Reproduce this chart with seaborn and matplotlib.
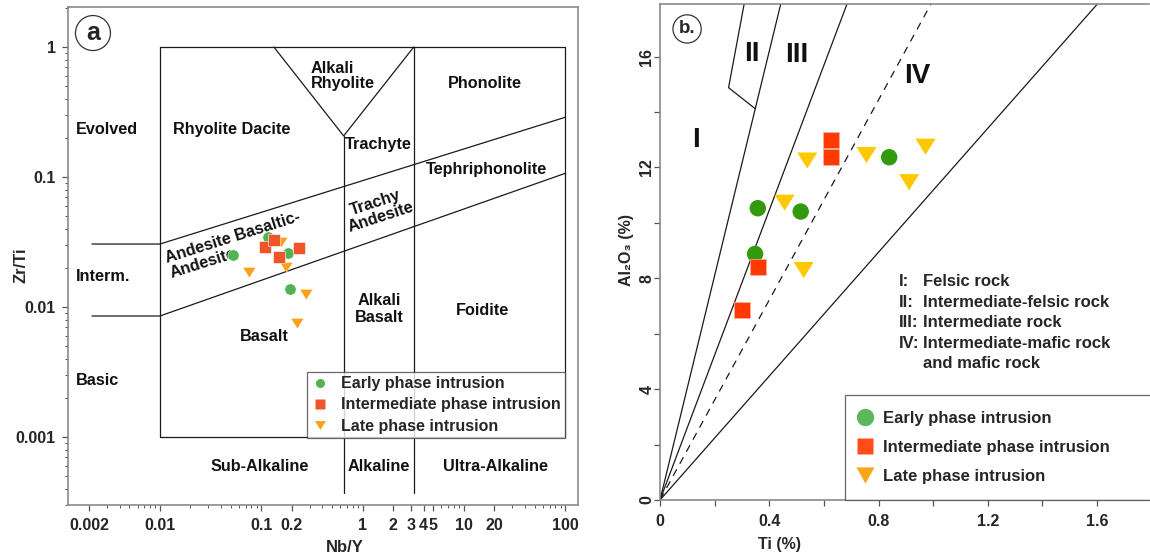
import numpy as np
import pandas as pd
import matplotlib
matplotlib.use("Agg")
import matplotlib.pyplot as plt
import seaborn as sns
from matplotlib.lines import Line2D
from matplotlib.ticker import FixedLocator, LogLocator, MultipleLocator, NullFormatter, FixedFormatter

# ---------------- data: panel a (Nb/Y vs Zr/Ti) ----------------
early_a_nby = [0.052, 0.117, 0.182, 0.192]
early_a_zrti = [0.025, 0.0344, 0.0259, 0.01375]
inter_a_nby = [0.109, 0.133, 0.151, 0.237]
inter_a_zrti = [0.0288, 0.0326, 0.0244, 0.0286]
late_a_nby = [0.076, 0.157, 0.175, 0.274, 0.226]
late_a_zrti = [0.0185, 0.0318, 0.0204, 0.0125, 0.00757]

# ---------------- data: panel b (Ti vs Al2O3) ----------------
early_b_ti = [0.358, 0.515, 0.348, 0.839]
early_b_al = [10.53, 10.41, 8.88, 12.37]
inter_b_ti = [0.627, 0.627, 0.358, 0.299]
inter_b_al = [13.0, 12.39, 8.40, 6.86]
late_b_ti = [0.539, 0.456, 0.526, 0.756, 0.912, 0.972]
late_b_al = [12.25, 10.73, 8.30, 12.45, 11.47, 12.75]

series_names = ["Early phase intrusion", "Intermediate phase intrusion", "Late phase intrusion"]

xticks_a = [0.002, 0.01, 0.1, 0.2, 1, 2, 3, 4, 5, 10, 20, 100]
xticklabels_a = ["0.002", "0.01", "0.1", "0.2", "1", "2", "3", "4", "5", "10", "20", "100"]
yticks_a = [0.001, 0.01, 0.1, 1]
yticklabels_a = ["0.001", "0.01", "0.1", "1"]
xticks_b = [0, 0.4, 0.8, 1.2, 1.6]
xticklabels_b = ["0", "0.4", "0.8", "1.2", "1.6"]
yticks_b = [0, 4, 8, 12, 16]
yticklabels_b = ["0", "4", "8", "12", "16"]

rock_keys = ["I:", "II:", "III:", "IV:", ""]
rock_names = ["Felsic rock", "Intermediate-felsic rock", "Intermediate rock",
              "Intermediate-mafic rock", "and mafic rock"]

# Al2O3/Ti ratios of the classification boundaries (panel b)
boundary_ratios = [40.5, 26.15, 18.05, 11.18]
boundary_styles = ["-", "-", (0, (6, 5)), "-"]

# ---------------- style ----------------
sns.set_style("ticks")
plt.rcParams["font.family"] = ["Liberation Sans", "DejaVu Sans"]
plt.rcParams["font.weight"] = "bold"
plt.rcParams["axes.labelweight"] = "bold"

green_a, red_a, orange_a = "#52b352", "#f0542a", "#f7a21b"
green_b, red_b, yellow_b = "#339a10", "#ff3a00", "#ffc800"
leg_green, leg_red, leg_orange = "#5cb85c", "#ff4d1a", "#f9a61c"
tri = [(-1, 0.8), (1, 0.8), (0, -0.8)]

W, H = 1150, 558
fig = plt.figure(figsize=(W / 100, H / 100), dpi=100)


def px_axes(l, t, r, b):
    return fig.add_axes([l / W, 1 - b / H, (r - l) / W, (b - t) / H])


ax_a = px_axes(68, 7, 578, 505)
ax_b = px_axes(660, 4, 1149, 500)

spine_col = "#8a8a8a"
line_kw = dict(color="#1a1a1a", lw=0.9, zorder=1)

# ================= panel a =================
ax_a.set_xscale("log")
ax_a.set_yscale("log")

sns.scatterplot(x=early_a_nby, y=early_a_zrti, ax=ax_a, marker="o", s=66,
                color=green_a, edgecolor="white", linewidth=0.4, zorder=3)
sns.scatterplot(x=late_a_nby, y=late_a_zrti, ax=ax_a, marker=tri, s=85,
                color=orange_a, edgecolor="white", linewidth=0.3, zorder=4)
sns.scatterplot(x=inter_a_nby, y=inter_a_zrti, ax=ax_a, marker="s", s=66,
                color=red_a, edgecolor="white", linewidth=0.4, zorder=5)

ax_a.set_xlim(0.001236, 133.7)
ax_a.set_ylim(0.0003, 2.03)

# classification boundaries
ax_a.plot([0.01, 100, 100, 0.01, 0.01], [1, 1, 0.001, 0.001, 1], **line_kw)
ax_a.plot([0.133, 0.65, 3.2], [1, 0.207, 1], **line_kw)
ax_a.plot([0.65, 0.65], [0.207, 0.00037], **line_kw)
ax_a.plot([3.2, 3.2], [1, 0.00037], **line_kw)
ax_a.plot([0.00213, 0.01, 100], [0.0305, 0.0305, 0.288], **line_kw)
ax_a.plot([0.00213, 0.01, 100], [0.00853, 0.00853, 0.1067], **line_kw)

tk = dict(fontsize=11.7, fontweight="bold", color="#111111", zorder=2)
ax_a.text(0.0030, 0.230, "Evolved", ha="center", va="center", **tk)
ax_a.text(0.0514, 0.230, "Rhyolite Dacite", ha="center", va="center", **tk)
ax_a.text(0.309, 0.598, "Alkali\nRhyolite", ha="left", va="center", linespacing=1.05, **tk)
ax_a.text(16.1, 0.528, "Phonolite", ha="center", va="center", **tk)
ax_a.text(1.419, 0.179, "Trachyte", ha="center", va="center", **tk)
ax_a.text(16.6, 0.115, "Tephriphonolite", ha="center", va="center", **tk)
ax_a.text(1.419, 0.0557, "Trachy\nAndesite", ha="center", va="center", rotation=18,
          rotation_mode="anchor", multialignment="center", linespacing=1.05, **tk)
ax_a.text(0.0132, 0.0160, "Andesite Basaltic-\nAndesite", ha="left", va="bottom", rotation=17.5,
          rotation_mode="anchor", multialignment="left", linespacing=1.05, **tk)
ax_a.text(0.00274, 0.0173, "Interm.", ha="center", va="center", **tk)
ax_a.text(1.45, 0.00966, "Alkali\nBasalt", ha="center", va="center", multialignment="center",
          linespacing=1.15, **tk)
ax_a.text(15.4, 0.00948, "Foidite", ha="center", va="center", **tk)
ax_a.text(0.107, 0.00588, "Basalt", ha="center", va="center", **tk)
ax_a.text(0.00239, 0.0027, "Basic", ha="center", va="center", **tk)
ax_a.text(0.0971, 0.000598, "Sub-Alkaline", ha="center", va="center", **tk)
ax_a.text(1.44, 0.000598, "Alkaline", ha="center", va="center", **tk)
ax_a.text(20.7, 0.000598, "Ultra-Alkaline", ha="center", va="center", **tk)
ax_a.text(0.00218, 1.28, "a", ha="center", va="center", fontsize=18, fontweight="bold",
          bbox=dict(boxstyle="circle,pad=0.22", fc="white", ec="#333333", lw=0.9))

ax_a.xaxis.set_major_locator(FixedLocator(xticks_a))
ax_a.xaxis.set_major_formatter(FixedFormatter(xticklabels_a))
ax_a.xaxis.set_minor_locator(LogLocator(base=10, subs=np.arange(2, 10) * 1.0, numticks=20))
ax_a.xaxis.set_minor_formatter(NullFormatter())
ax_a.yaxis.set_major_locator(FixedLocator(yticks_a))
ax_a.yaxis.set_major_formatter(FixedFormatter(yticklabels_a))
ax_a.yaxis.set_minor_locator(LogLocator(base=10, subs=np.arange(2, 10) * 1.0, numticks=20))
ax_a.yaxis.set_minor_formatter(NullFormatter())
ax_a.tick_params(which="major", length=4, width=0.9, color="#555555", labelsize=11.5, pad=5)
ax_a.tick_params(which="minor", length=2.2, width=0.7, color="#555555")
for lab in ax_a.get_xticklabels() + ax_a.get_yticklabels():
    lab.set_fontweight("bold")
ax_a.set_xlabel("Nb/Y", fontsize=12, fontweight="bold")
ax_a.set_ylabel("Zr/Ti", fontsize=12, fontweight="bold")
ax_a.xaxis.set_label_coords(0.543, -0.070)
ax_a.yaxis.set_label_coords(-0.078, 0.482)
for sp in ax_a.spines.values():
    sp.set_color(spine_col)
    sp.set_linewidth(1.2)

handles_a = [
    Line2D([], [], ls="none", marker="o", ms=6.5, mfc=green_a, mec="none"),
    Line2D([], [], ls="none", marker="s", ms=6.5, mfc=red_a, mec="none"),
    Line2D([], [], ls="none", marker=tri, ms=8, mfc=orange_a, mec="none"),
]
leg_a = ax_a.legend(handles_a, series_names, loc="upper left",
                    bbox_to_anchor=(0.4686, 0.1333, 0.9745 - 0.4686, 0.1345), mode="expand",
                    borderaxespad=0, frameon=True, fancybox=False, fontsize=11.5,
                    handlelength=1.0, handletextpad=0.8, labelspacing=0.38, borderpad=0.3)
leg_a.get_frame().set_edgecolor("#444444")
leg_a.get_frame().set_linewidth(0.9)
for t in leg_a.get_texts():
    t.set_fontweight("bold")

# ================= panel b =================
sns.scatterplot(x=early_b_ti, y=early_b_al, ax=ax_b, marker="o", s=140,
                color=green_b, edgecolor="none", zorder=3)
sns.scatterplot(x=inter_b_ti, y=inter_b_al, ax=ax_b, marker="s", s=120,
                color=red_b, edgecolor="#ffb0a0", linewidth=0.5, zorder=3)
sns.scatterplot(x=late_b_ti, y=late_b_al, ax=ax_b, marker=tri, s=210,
                color=yellow_b, edgecolor="none", zorder=3)

ax_b.set_xlim(0, 1.79)
ax_b.set_ylim(0, 17.9)

for r, ls in zip(boundary_ratios, boundary_styles):
    ax_b.plot([0, 20 / r], [0, 20], color="#1a1a1a", lw=0.9, ls=ls, zorder=1)
ax_b.plot([0.3193, 0.251, 0.3486], [18.5, 14.88, 14.12], color="#1a1a1a", lw=0.9, zorder=1)

big = dict(fontsize=20, fontweight="bold", ha="center", va="center", color="#111111")
ax_b.text(0.337, 16.1, "II", **big)
ax_b.text(0.502, 16.06, "III", **big)
ax_b.text(0.942, 15.3, "IV", **big)
ax_b.text(0.132, 12.99, "I", **big)
ax_b.text(0.0992, 17.0, "b.", ha="center", va="center", fontsize=13.5, fontweight="bold",
          bbox=dict(boxstyle="circle,pad=0.3", fc="white", ec="#333333", lw=0.9))

rows_y = [7.88, 7.14, 6.40, 5.66, 4.92]
for key, name, yy in zip(rock_keys, rock_names, rows_y):
    if key:
        ax_b.text(0.873, yy, key, ha="left", va="center", fontsize=12, fontweight="bold")
    ax_b.text(0.961, yy, name, ha="left", va="center", fontsize=12, fontweight="bold")

ax_b.xaxis.set_major_locator(FixedLocator(xticks_b))
ax_b.xaxis.set_major_formatter(FixedFormatter(xticklabels_b))
ax_b.xaxis.set_minor_locator(MultipleLocator(0.2))
ax_b.yaxis.set_major_locator(FixedLocator(yticks_b))
ax_b.yaxis.set_major_formatter(FixedFormatter(yticklabels_b))
ax_b.yaxis.set_minor_locator(MultipleLocator(2))
ax_b.tick_params(which="both", length=4, width=0.9, color="#555555", labelsize=11.5)
ax_b.tick_params(axis="x", pad=6)
ax_b.tick_params(axis="y", pad=0)
for lab in ax_b.get_xticklabels():
    lab.set_fontweight("bold")
for lab in ax_b.get_yticklabels():
    lab.set_fontweight("bold")
    lab.set_rotation(90)
    lab.set_va("center")
ax_b.set_xlabel("Ti (%)", fontsize=11.5, fontweight="bold")
ax_b.set_ylabel("Al\u2082O\u2083 (%)", fontsize=11.5, fontweight="bold")
ax_b.xaxis.set_label_coords(0.245, -0.0746)
ax_b.yaxis.set_label_coords(-0.053, 0.504)
for name, sp in ax_b.spines.items():
    sp.set_color(spine_col)
    sp.set_linewidth(1.2)
ax_b.spines["right"].set_visible(False)

handles_b = [
    Line2D([], [], ls="none", marker="o", ms=12.5, mfc=leg_green, mec="none"),
    Line2D([], [], ls="none", marker="s", ms=12, mfc=leg_red, mec="none"),
    Line2D([], [], ls="none", marker=[(-1, 0.9), (1, 0.9), (0, -0.9)], ms=13, mfc=leg_orange, mec="none"),
]
leg_b = ax_b.legend(handles_b, series_names, loc="lower left",
                    bbox_to_anchor=(0.379, 0.0, 0.64, 0.2137), mode="expand",
                    borderaxespad=0, frameon=True, fancybox=False, fontsize=12,
                    handlelength=0.5, handletextpad=0.82, labelspacing=0.85, borderpad=0.95)
leg_b.get_frame().set_edgecolor("#444444")
leg_b.get_frame().set_linewidth(0.9)
for t in leg_b.get_texts():
    t.set_fontweight("bold")

fig.savefig("out.png", dpi=100)
